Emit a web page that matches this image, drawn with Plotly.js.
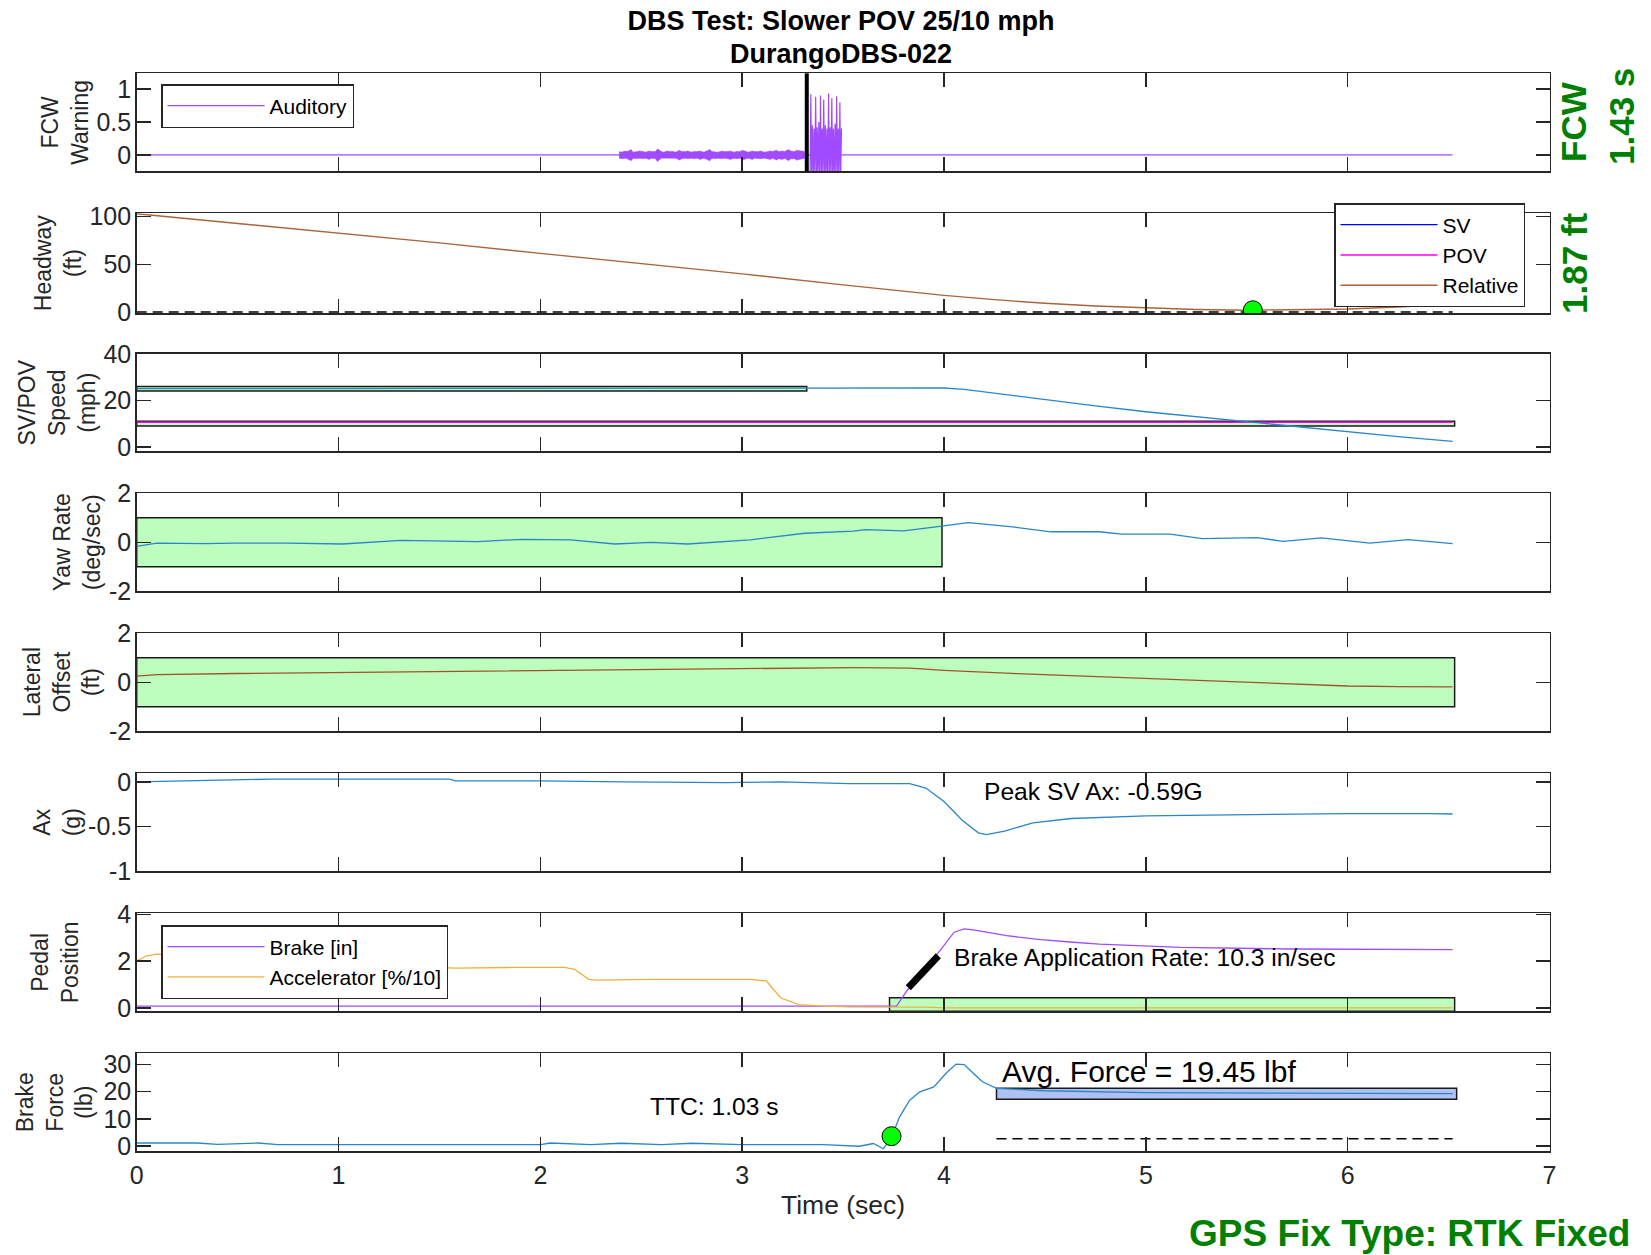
<!DOCTYPE html>
<html>
<head>
<meta charset="utf-8">
<script src="https://cdn.plot.ly/plotly-3.0.1.min.js"></script>
<style>
html,body{margin:0;padding:0;background:#fff;}
#chart{width:1651px;height:1255px;}
</style>
</head>
<body>
<div id="chart"></div>
<script>
// ---------------- DATA ----------------
// Panel 1: FCW warning (auditory)
const auditBaseT = [0, 6.52];
const auditBaseV = [0, 0];
const noiseT = [2.39,2.40,2.42,2.43,2.45,2.46,2.48,2.49,2.51,2.52,2.54,2.55,2.57,2.58,2.60,2.61,2.63,2.64,2.66,2.67,2.69,2.70,2.72,2.73,2.75,2.76,2.78,2.79,2.81,2.82,2.84,2.85,2.87,2.88,2.90,2.91,2.93,2.94,2.96,2.97,2.99,3.00,3.02,3.03,3.05,3.06,3.08,3.09,3.11,3.12,3.14,3.15,3.17,3.18,3.20,3.21,3.23,3.24,3.26,3.27,3.29,3.31];
const noiseUp = [0.05,0.04,0.06,0.05,0.08,0.04,0.05,0.06,0.05,0.04,0.06,0.05,0.05,0.09,0.05,0.04,0.06,0.05,0.05,0.04,0.07,0.05,0.05,0.06,0.04,0.05,0.05,0.06,0.04,0.05,0.08,0.05,0.05,0.04,0.06,0.05,0.05,0.06,0.04,0.05,0.05,0.07,0.05,0.04,0.06,0.05,0.05,0.06,0.04,0.05,0.06,0.05,0.07,0.05,0.06,0.05,0.08,0.06,0.05,0.07,0.06,0.05];
const noiseLo = [-0.05,-0.06,-0.05,-0.06,-0.09,-0.05,-0.06,-0.05,-0.06,-0.05,-0.07,-0.05,-0.06,-0.10,-0.05,-0.06,-0.05,-0.06,-0.05,-0.05,-0.08,-0.06,-0.05,-0.06,-0.05,-0.06,-0.05,-0.07,-0.05,-0.06,-0.09,-0.05,-0.06,-0.05,-0.06,-0.05,-0.06,-0.07,-0.05,-0.06,-0.05,-0.08,-0.06,-0.05,-0.07,-0.05,-0.06,-0.06,-0.05,-0.06,-0.07,-0.05,-0.08,-0.06,-0.07,-0.05,-0.09,-0.06,-0.06,-0.08,-0.07,-0.05];
const burstT = [3.336,3.340,3.344,3.348,3.352,3.356,3.360,3.364,3.368,3.372,3.376,3.380,3.384,3.388,3.392,3.396,3.400,3.404,3.408,3.412,3.416,3.420,3.424,3.428,3.432,3.436,3.440,3.444,3.448,3.452,3.456,3.460,3.464,3.468,3.472,3.476,3.480,3.484,3.488,3.492];
const burstV = [-0.35,0.92,-0.35,0.45,-0.35,0.40,-0.35,0.88,-0.35,0.42,-0.35,0.50,-0.35,0.90,-0.35,0.40,-0.35,0.84,-0.35,0.45,-0.35,0.40,-0.35,0.93,-0.35,0.42,-0.35,0.86,-0.35,0.40,-0.35,0.47,-0.35,0.89,-0.35,0.40,-0.35,0.80,-0.35,0.40];
const fcwTime = 3.32;           // FCW onset (black marker line)
const fcwLabel = '1.43 s';

// Panel 2: headway
const hwT   = [0, 0.5, 1, 1.5, 2, 2.5, 3, 3.5, 3.75, 4, 4.25, 4.5, 4.75, 5, 5.25, 5.5, 5.75, 6, 6.25, 6.52];
const hwRel = [103, 93, 83, 72.5, 61.5, 51, 40, 28.5, 23, 17.5, 13, 9.2, 6.3, 4.1, 2.7, 1.9, 2.2, 3.2, 5.3, 8.3];
const hwSV  = [null];
const hwPOV = [null];
const hwZeroT = [0, 6.52];
const hwZeroV = [0, 0];
const hwMinT = [5.53];
const hwMinV = [1.87];
const hwLabel = '1.87 ft';

// Panel 3: SV / POV speed (mph)
const svT = [0, 0.5, 1, 1.5, 2, 2.5, 3, 3.5, 3.8, 4.0, 4.1, 4.2, 4.35, 4.5, 4.75, 5, 5.25, 5.5, 5.75, 6, 6.25, 6.52];
const svV = [25.0, 24.9, 25.0, 25.1, 25.2, 25.3, 25.4, 25.5, 25.5, 25.3, 24.7, 23.6, 21.7, 20.1, 17.6, 15.1, 12.9, 10.8, 8.6, 6.4, 4.4, 2.4];
const povT = [0, 6.52];
const povV = [10.6, 10.6];
const svBoxT = [0, 3.32],  svBoxV = [24, 26];
const povBoxT = [0, 6.53], povBoxV = [9, 11];

// Panel 4: yaw rate (deg/sec)
const yawT = [0, 0.1, 0.34, 0.48, 0.75, 1.02, 1.31, 1.5, 1.69, 1.91, 2.15, 2.37, 2.55, 2.73, 3.04, 3.31, 3.55, 3.61, 3.8, 3.96, 4.12, 4.34, 4.53, 4.77, 4.88, 5.12, 5.28, 5.55, 5.68, 5.87, 6.11, 6.3, 6.52];
const yawV = [-0.17, -0.03, -0.05, -0.03, -0.03, -0.07, 0.08, 0.04, 0.03, 0.12, 0.10, -0.07, 0.0, -0.07, 0.10, 0.37, 0.46, 0.52, 0.47, 0.63, 0.80, 0.63, 0.43, 0.43, 0.33, 0.33, 0.15, 0.19, 0.04, 0.18, -0.03, 0.11, -0.05];
const yawBoxT = [0, 3.99], yawBoxV = [-1, 1];

// Panel 5: lateral offset (ft)
const latT = [0, 0.1, 0.5, 1.22, 1.75, 2.2, 2.75, 3.2, 3.56, 3.83, 4.0, 4.36, 4.7, 5.0, 5.44, 5.75, 6.0, 6.25, 6.52];
const latV = [0.25, 0.31, 0.36, 0.42, 0.47, 0.51, 0.55, 0.58, 0.6, 0.58, 0.49, 0.35, 0.25, 0.15, 0.01, -0.08, -0.15, -0.18, -0.19];
const latBoxT = [0, 6.53], latBoxV = [-1, 1];

// Panel 6: longitudinal acceleration (g)
const axT = [0, 0.37, 0.67, 1.2, 1.55, 1.58, 2.0, 2.41, 2.92, 3.19, 3.53, 3.69, 3.83, 3.91, 4.0, 4.09, 4.17, 4.21, 4.3, 4.44, 4.63, 5.0, 5.44, 6.0, 6.4, 6.52];
const axV = [0, 0.02, 0.03, 0.03, 0.03, 0.01, 0.01, 0.0, -0.01, 0.0, -0.02, -0.02, -0.02, -0.07, -0.22, -0.43, -0.57, -0.59, -0.55, -0.46, -0.41, -0.38, -0.37, -0.355, -0.355, -0.36];
const axPeakText = 'Peak SV Ax: -0.59G';

// Panel 7: pedal position
const brkT = [0, 0.5, 1, 1.5, 2, 2.5, 3, 3.5, 3.765, 3.815, 3.90, 3.98, 4.05, 4.10, 4.145, 4.31, 4.48, 4.64, 4.77, 5.17, 5.71, 6.52];
const brkV = [0.07, 0.07, 0.07, 0.07, 0.07, 0.07, 0.07, 0.07, 0.07, 0.72, 1.58, 2.45, 3.24, 3.38, 3.34, 3.09, 2.92, 2.81, 2.73, 2.59, 2.52, 2.49];
const accT = [0, 0.05, 0.1, 0.5, 1.0, 1.58, 1.88, 2.12, 2.17, 2.24, 2.28, 2.55, 3.04, 3.12, 3.19, 3.28, 3.41, 3.53, 3.9, 4.0, 6.52];
const accV = [2.01, 2.23, 2.3, 2.1, 1.9, 1.7, 1.73, 1.73, 1.65, 1.22, 1.19, 1.22, 1.22, 1.15, 0.43, 0.14, 0.07, 0.04, 0.03, 0.0, 0.0];
const rateSegT = [3.823, 3.972];
const rateSegV = [0.86, 2.23];
const pedBoxT = [3.73, 6.53], pedBoxV = [-0.15, 0.43];
const rateText = 'Brake Application Rate: 10.3 in/sec';

// Panel 8: brake force (lb)
const bfT = [0, 0.3, 0.4, 0.6, 0.7, 2.0, 2.05, 2.25, 2.4, 2.6, 2.75, 3.0, 3.4, 3.485, 3.58, 3.65, 3.70, 3.74, 3.78, 3.83, 3.88, 3.95, 4.01, 4.06, 4.10, 4.145, 4.19, 4.26, 4.5, 5.0, 5.5, 6.0, 6.52];
const bfV = [1.1, 1.1, 0.6, 1.1, 0.5, 0.5, 1.1, 0.5, 1.0, 0.5, 1.0, 0.5, 0.5, 0.26, -0.1, 0.9, -1.0, 3.3, 10.7, 16.8, 19.9, 21.7, 26.7, 30.1, 29.9, 26.7, 23.6, 21.2, 20.3, 19.6, 19.4, 19.3, 19.2];
const bfBoxT = [4.26, 6.54], bfBoxV = [17.2, 21.2];
const bfDashT = [4.26, 6.52], bfDashV = [2.7, 2.7];
const ttcT = [3.74], ttcV = [3.6];
const ttcText = 'TTC: 1.03 s';
const avgText = 'Avg. Force = 19.45 lbf';

// axis tick labels and texts
const xTicks = [0, 1, 2, 3, 4, 5, 6, 7];
const titleLine1 = 'DBS Test: Slower POV 25/10 mph';
const titleLine2 = 'DurangoDBS-022';
const gpsText = 'GPS Fix Type: RTK Fixed';

// ---------------- LAYOUT ----------------
const W = 1651, H = 1255;
const FONT = 'Arial, "Liberation Sans", Helvetica, sans-serif';
const AX = '#262626';
const GREEN = '#008000';
const PURPLE = '#A04BFF';
const BLUE = '#2A86C8';
const BOXG = '#BDFDBD';
const L = 136.7, R = 1549.5;
const tops    = [73.3, 213.3, 353.8, 493.3, 633.3, 773.3, 913.3, 1053.3];
const heights = [98,   99.7,  97.5,  98,    98,    98,    98,    98];
const px = p => p / W;
const py = p => 1 - p / H;
const TICKF = 25, LABF = 23, TXTF = 24.6, LEGF = 21;

const panels = [
  {range:[-0.25,1.238], tv:[0,0.5,1], tt:['0','0.5','1'], label:'FCW<br>Warning', lx:65.5},
  {range:[-1,103.5], tv:[0,50,100], tt:['0','50','100'], label:'Headway<br>(ft)', lx:58},
  {range:[-1.9,40], tv:[0,20,40], tt:['0','20','40'], label:'SV/POV<br>Speed<br>(mph)', lx:57},
  {range:[-2,2], tv:[-2,0,2], tt:['-2','0','2'], label:'Yaw Rate<br>(deg/sec)', lx:77},
  {range:[-2,2], tv:[-2,0,2], tt:['-2','0','2'], label:'Lateral<br>Offset<br>(ft)', lx:62},
  {range:[-1,0.095], tv:[-1,-0.5,0], tt:['-1','-0.5','0'], label:'Ax<br>(g)', lx:57},
  {range:[-0.15,4.05], tv:[0,2,4], tt:['0','2','4'], label:'Pedal<br>Position', lx:55},
  {range:[-1.95,34.05], tv:[0,10,20,30], tt:['0','10','20','30'], label:'Brake<br>Force<br>(lb)', lx:55}
];

const layout = {
  width: W, height: H,
  margin: {l:0, r:0, t:0, b:0},
  paper_bgcolor: '#fff', plot_bgcolor: '#fff',
  font: {family: FONT, size: LABF, color: AX},
  showlegend: true,
  title: {text: '<b>' + titleLine1 + '</b>', font: {family: FONT, size: 27, color: '#000'},
          xref: 'container', yref: 'container', x: 841 / W, xanchor: 'center', y: py(21), yanchor: 'middle'},
  annotations: [], shapes: []
};

const sfx = i => (i === 0 ? '' : String(i + 1));
panels.forEach((p, i) => {
  const top = tops[i], bot = tops[i] + heights[i];
  layout['xaxis' + sfx(i)] = {
    domain: [px(L), px(R)], range: [0, 7], anchor: 'y' + sfx(i),
    tickvals: xTicks, ticktext: xTicks.map(String), showticklabels: i === 7,
    ticks: 'inside', ticklen: 14, tickwidth: 1.5, tickcolor: AX,
    showline: true, linecolor: AX, linewidth: 1.5, mirror: 'ticks',
    showgrid: false, zeroline: false, fixedrange: true,
    tickfont: {family: FONT, size: TICKF, color: AX}, ticklabelstandoff: 1
  };
  layout['yaxis' + sfx(i)] = {
    domain: [py(bot), py(top)], range: p.range, anchor: 'x' + sfx(i),
    tickvals: p.tv, ticktext: p.tt,
    ticks: 'inside', ticklen: 14, tickwidth: 1.5, tickcolor: AX,
    showline: true, linecolor: AX, linewidth: 1.5, mirror: 'ticks',
    showgrid: false, zeroline: false, fixedrange: true,
    tickfont: {family: FONT, size: TICKF, color: AX}, ticklabelstandoff: -1
  };
  layout.annotations.push({
    text: p.label, xref: 'paper', yref: 'paper', x: px(p.lx), y: py(top + heights[i] / 2),
    xanchor: 'center', yanchor: 'middle', textangle: -90, showarrow: false,
    font: {family: FONT, size: LABF, color: AX}
  });
});

// extra text
layout.annotations.push(
  {text: '<b>' + titleLine2 + '</b>', xref: 'paper', yref: 'paper', x: px(841), y: py(54), xanchor: 'center', yanchor: 'middle', showarrow: false, font: {family: FONT, size: 27, color: '#000'}},
  {text: 'Time (sec)', xref: 'paper', yref: 'paper', x: px(843), y: py(1205), xanchor: 'center', yanchor: 'middle', showarrow: false, font: {family: FONT, size: 26.5, color: AX}},
  {text: '<b>FCW</b>', xref: 'paper', yref: 'paper', x: px(1574), y: py(122), xanchor: 'center', yanchor: 'middle', textangle: -90, showarrow: false, font: {family: FONT, size: 35, color: GREEN}},
  {text: '<b>' + fcwLabel + '</b>', xref: 'paper', yref: 'paper', x: px(1622), y: py(117), xanchor: 'center', yanchor: 'middle', textangle: -90, showarrow: false, font: {family: FONT, size: 35, color: GREEN}},
  {text: '<b>' + hwLabel + '</b>', xref: 'paper', yref: 'paper', x: px(1574), y: py(263), xanchor: 'center', yanchor: 'middle', textangle: -90, showarrow: false, font: {family: FONT, size: 35, color: GREEN}},
  {text: '<b>' + gpsText + '</b>', xref: 'paper', yref: 'paper', x: px(1632), y: py(1233), xanchor: 'right', yanchor: 'middle', showarrow: false, font: {family: FONT, size: 37, color: GREEN}},
  {text: axPeakText, xref: 'x6', yref: 'y6', x: 4.19, y: -0.104, xanchor: 'left', yanchor: 'middle', showarrow: false, font: {family: FONT, size: TXTF, color: '#000'}},
  {text: rateText, xref: 'x7', yref: 'y7', x: 4.038, y: 2.16, xanchor: 'left', yanchor: 'middle', showarrow: false, font: {family: FONT, size: TXTF, color: '#000'}},
  {text: ttcText, xref: 'x8', yref: 'y8', x: 2.86, y: 14.6, xanchor: 'center', yanchor: 'middle', showarrow: false, font: {family: FONT, size: TXTF, color: '#000'}},
  {text: avgText, xref: 'x8', yref: 'y8', x: 4.276, y: 27.5, xanchor: 'left', yanchor: 'middle', showarrow: false, font: {family: FONT, size: 30, color: '#000'}}
);

// corridor boxes
function box(xr, yr, bx, by, fill, layer) {
  layout.shapes.push({type: 'rect', xref: xr, yref: yr, x0: bx[0], x1: bx[1], y0: by[0], y1: by[1],
    fillcolor: fill, line: {color: '#1a1a1a', width: 1.5}, layer: layer || 'below'});
}
box('x3', 'y3', svBoxT, svBoxV, BOXG);
box('x3', 'y3', povBoxT, povBoxV, BOXG);
box('x4', 'y4', yawBoxT, yawBoxV, BOXG);
box('x5', 'y5', latBoxT, latBoxV, BOXG);
box('x7', 'y7', pedBoxT, pedBoxV, BOXG);
box('x8', 'y8', bfBoxT, bfBoxV, '#AFC0F3');
layout.shapes.push({type: 'line', xref: 'x', yref: 'y domain', x0: fcwTime, x1: fcwTime, y0: 0, y1: 1, line: {color: '#000', width: 4}, layer: 'above'});

// legends
const legBase = {xanchor: 'left', yanchor: 'top', bgcolor: '#fff', bordercolor: AX, borderwidth: 1.5,
  font: {family: FONT, size: LEGF, color: '#000'}, itemwidth: 97, traceorder: 'normal', tracegroupgap: 0};
layout.legend  = Object.assign({}, legBase, {x: px(161), y: py(84)});
layout.legend2 = Object.assign({}, legBase, {x: px(1334), y: py(203)});
layout.legend3 = Object.assign({}, legBase, {x: px(161), y: py(925)});

// ---------------- TRACES ----------------
const line = (x, y, xa, ya, color, width, extra) => Object.assign({
  type: 'scatter', mode: 'lines', x: x, y: y, xaxis: xa, yaxis: ya,
  line: {color: color, width: width}, showlegend: false, hoverinfo: 'skip'
}, extra || {});

const traces = [];
// Panel 1
traces.push(line(auditBaseT, auditBaseV, 'x', 'y', PURPLE, 1.4, {name: 'Auditory', showlegend: true, legend: 'legend'}));
traces.push({type: 'scatter', mode: 'lines', x: noiseT.concat(noiseT.slice().reverse()), y: noiseUp.concat(noiseLo.slice().reverse()),
  xaxis: 'x', yaxis: 'y', fill: 'toself', fillcolor: PURPLE, line: {color: PURPLE, width: 0.5}, showlegend: false, hoverinfo: 'skip'});
traces.push(line(burstT, burstV, 'x', 'y', PURPLE, 1.2));
// Panel 2
traces.push(line(hwT.slice(0, hwSV.length), hwSV, 'x2', 'y2', '#0000FF', 1.4, {name: 'SV', showlegend: true, legend: 'legend2'}));
traces.push(line(hwT.slice(0, hwPOV.length), hwPOV, 'x2', 'y2', '#FF00FF', 1.4, {name: 'POV', showlegend: true, legend: 'legend2'}));
traces.push(line(hwT, hwRel, 'x2', 'y2', '#A8643A', 1.4, {name: 'Relative', showlegend: true, legend: 'legend2'}));
traces.push(line(hwZeroT, hwZeroV, 'x2', 'y2', '#000', 1.5, {line: {color: '#000', width: 1.5, dash: '10px,6px'}}));
traces.push({type: 'scatter', mode: 'markers', x: hwMinT, y: hwMinV, xaxis: 'x2', yaxis: 'y2',
  marker: {size: 19, color: '#00FF00', line: {color: '#000', width: 1}}, showlegend: false, hoverinfo: 'skip'});
// Panel 3
traces.push(line(povT, povV, 'x3', 'y3', '#FF00FF', 1.6));
traces.push(line(svT, svV, 'x3', 'y3', BLUE, 1.3));
// Panel 4
traces.push(line(yawT, yawV, 'x4', 'y4', BLUE, 1.3));
// Panel 5
traces.push(line(latT, latV, 'x5', 'y5', '#A0522D', 1.3));
// Panel 6
traces.push(line(axT, axV, 'x6', 'y6', BLUE, 1.3));
// Panel 7
traces.push(line(brkT, brkV, 'x7', 'y7', PURPLE, 1.3, {name: 'Brake [in]', showlegend: true, legend: 'legend3'}));
traces.push(line(accT, accV, 'x7', 'y7', '#F0B040', 1.3, {name: 'Accelerator [%/10]', showlegend: true, legend: 'legend3'}));
traces.push(line(rateSegT, rateSegV, 'x7', 'y7', '#000', 7));
// Panel 8
traces.push(line(bfDashT, bfDashV, 'x8', 'y8', '#000', 1.5, {line: {color: '#000', width: 1.5, dash: '10px,6px'}}));
traces.push(line(bfT, bfV, 'x8', 'y8', BLUE, 1.3));
traces.push({type: 'scatter', mode: 'markers', x: ttcT, y: ttcV, xaxis: 'x8', yaxis: 'y8',
  marker: {size: 19, color: '#00FF00', line: {color: '#000', width: 1}}, showlegend: false, hoverinfo: 'skip'});

Plotly.newPlot('chart', traces, layout, {displayModeBar: false, staticPlot: true});
</script>
</body>
</html>
